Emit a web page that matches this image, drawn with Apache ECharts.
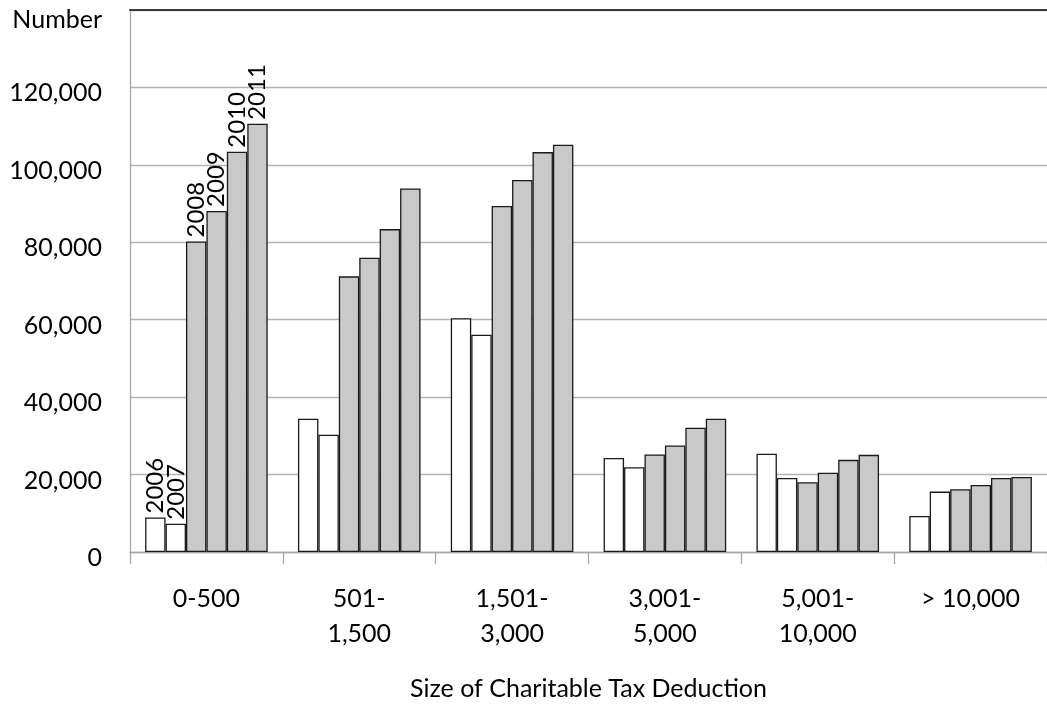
<!DOCTYPE html>
<html>
<head>
<meta charset="utf-8">
<script src="https://cdn.jsdelivr.net/npm/echarts@6/dist/echarts.min.js"></script>
<style>
html,body{margin:0;padding:0;background:#fff;}
#chart{width:1047px;height:706px;}
</style>
</head>
<body>
<div id="chart"></div>
<script>
const categories = ['0-500', '501-\n1,500', '1,501-\n3,000', '3,001-\n5,000', '5,001-\n10,000', '> 10,000'];
const years = ['2006', '2007', '2008', '2009', '2010', '2011'];
const v2006 = [8900, 34400, 60400, 24300, 25400, 9300];
const v2007 = [7300, 30300, 56100, 21900, 19100, 15600];
const v2008 = [80200, 71200, 89400, 25200, 18000, 16200];
const v2009 = [88100, 76000, 96100, 27500, 20500, 17300];
const v2010 = [103400, 83400, 103300, 32100, 23800, 19100];
const v2011 = [110600, 93900, 105200, 34400, 25100, 19400];
const yTicks = [0, 20000, 40000, 60000, 80000, 100000, 120000, 140000];
const yTopLabel = 'Number';
const xTitle = 'Size of Charitable Tax Deduction';

const seriesValues = [v2006, v2007, v2008, v2009, v2010, v2011];
const FONT = 'Lato';
const FS = 25;

const series = years.map((yr, i) => ({
  name: yr,
  type: 'bar',
  barGap: '0%',
  barCategoryGap: '19.8%',
  itemStyle: {
    color: i < 2 ? '#ffffff' : '#c9c9c9',
    borderColor: '#1a1a1a',
    borderWidth: 1.3
  },
  data: seriesValues[i].map((v, j) => j === 0 ? {
    value: v,
    label: {
      show: true,
      formatter: yr,
      position: 'top',
      rotate: 90,
      distance: 4,
      align: 'left',
      verticalAlign: 'middle',
      fontFamily: FONT,
      fontSize: 24,
      color: '#000'
    }
  } : v)
}));

const chart = echarts.init(document.getElementById('chart'));
chart.setOption({
  animation: false,
  backgroundColor: '#fff',
  grid: { left: 130, top: 10, width: 921, height: 544, containLabel: false },
  xAxis: [{
    type: 'category',
    data: categories,
    position: 'bottom',
    axisLine: { show: true, lineStyle: { color: '#a6a6a6', width: 1.3 } },
    axisTick: { show: true, length: 12, lineStyle: { color: '#a6a6a6', width: 1.3 } },
    axisLabel: { fontFamily: FONT, fontSize: FS, color: '#000', margin: 29, lineHeight: 35 },
    name: xTitle,
    nameLocation: 'middle',
    nameGap: 124,
    nameTextStyle: { fontFamily: FONT, fontSize: FS, color: '#000' }
  }, {
    type: 'category',
    data: categories,
    position: 'top',
    axisLine: { show: true, lineStyle: { color: '#3a3a3a', width: 2 } },
    axisTick: { show: false },
    axisLabel: { show: false }
  }],
  yAxis: {
    type: 'value',
    min: yTicks[0],
    max: yTicks[yTicks.length - 1],
    interval: yTicks[1] - yTicks[0],
    axisLine: { show: true, lineStyle: { color: '#a6a6a6', width: 1.3 } },
    axisTick: { show: false },
    splitLine: { show: true, lineStyle: { color: '#b3b3b3', width: 1.3 } },
    axisLabel: {
      fontFamily: FONT, fontSize: FS, color: '#000', margin: 28,
      padding: [12, 0, 0, 0],
      formatter: v => v === yTicks[yTicks.length - 1] ? '{n|' + yTopLabel + '}' : v.toLocaleString('en-US'),
      rich: { n: { fontFamily: FONT, fontSize: FS, color: '#000', padding: [8, 0, 0, 0] } }
    }
  },
  series: series
});
</script>
</body>
</html>
